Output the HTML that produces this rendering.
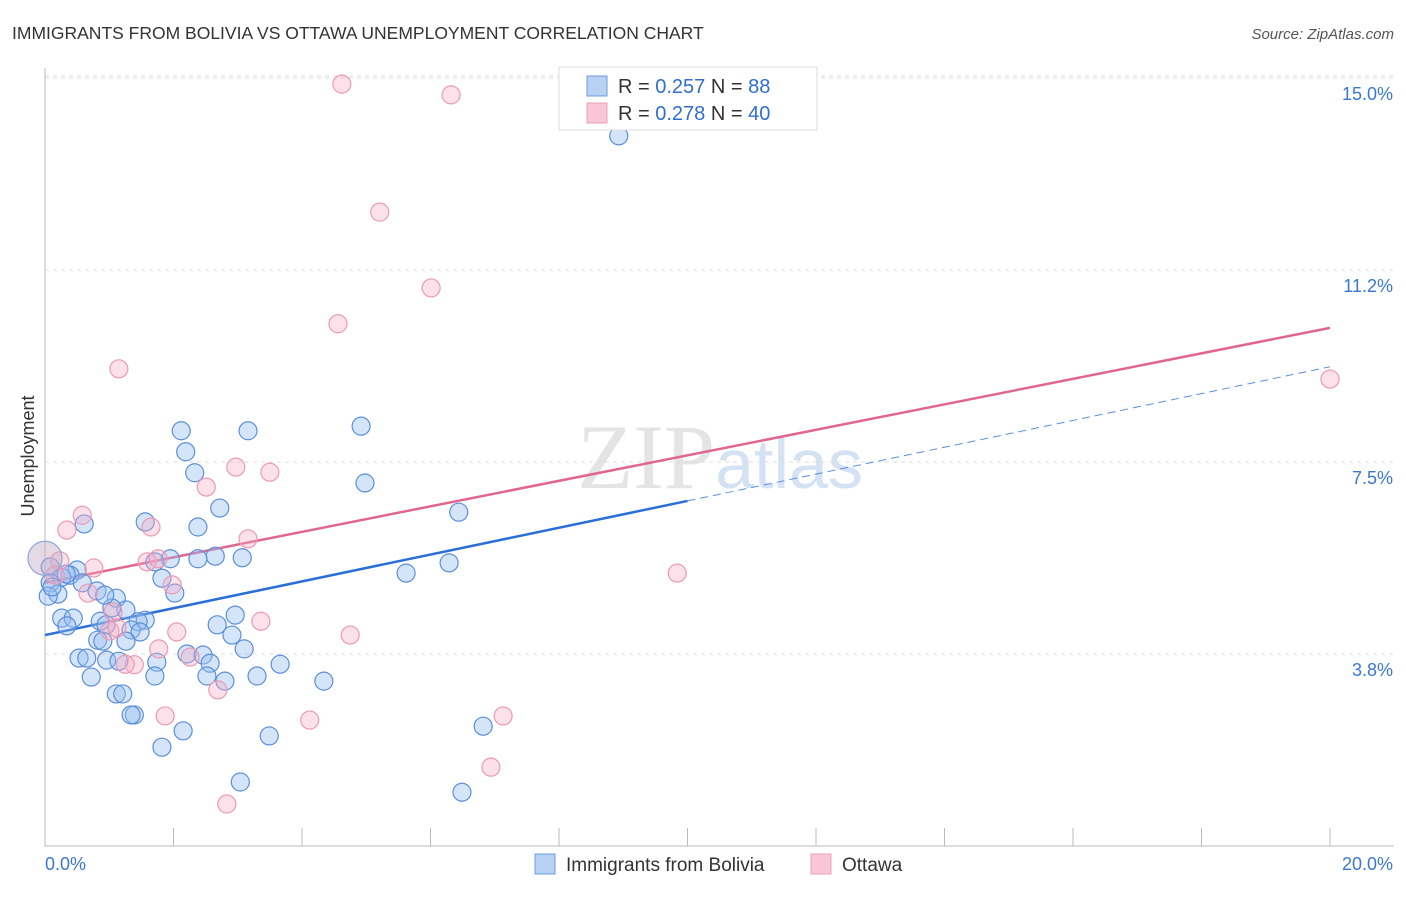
<!DOCTYPE html>
<html><head><meta charset="utf-8"><style>
body{margin:0;background:#fff;font-family:"Liberation Sans",sans-serif;}
</style></head><body>
<svg width="1406" height="892" xmlns="http://www.w3.org/2000/svg" font-family="Liberation Sans, sans-serif">
<text x="12" y="39" font-size="17.5" fill="#333">IMMIGRANTS FROM BOLIVIA VS OTTAWA UNEMPLOYMENT CORRELATION CHART</text>
<text x="1394" y="39" font-size="15" fill="#555" font-style="italic" text-anchor="end">Source: ZipAtlas.com</text>
<text x="720" y="488" font-size="92" fill="#e4e4e4" text-anchor="middle" font-family="Liberation Serif, serif">ZIP<tspan fill="#d4e2f4" font-family="Liberation Sans, sans-serif" font-size="70">atlas</tspan></text>
<g id="grid"></g>
<g id="axes"></g>
<g id="trend"></g>
<g id="pts"></g>
<text transform="translate(34,456) rotate(-90)" font-size="18" fill="#333" text-anchor="middle">Unemployment</text>
<g>
<rect x="559" y="67" width="258" height="63" fill="#fff" stroke="#ddd"/>
<rect x="587" y="76" width="20" height="20" fill="#b8d2f4" stroke="#6d9be0"/>
<rect x="587" y="103" width="20" height="20" fill="#f8c6d4" stroke="#eaa0b8"/>
<text x="618" y="93" font-size="20" fill="#333">R = <tspan fill="#2f6fd0">0.257</tspan>    N = <tspan fill="#2f6fd0"> 88</tspan></text>
<text x="618" y="120" font-size="20" fill="#333">R = <tspan fill="#2f6fd0">0.278</tspan>    N = <tspan fill="#2f6fd0"> 40</tspan></text>
</g>
<g>
<rect x="535" y="854" width="20" height="20" fill="#b8d2f4" stroke="#6d9be0"/>
<text x="566" y="871" font-size="19" fill="#333">Immigrants from Bolivia</text>
<rect x="811" y="854" width="20" height="20" fill="#f8c6d4" stroke="#eaa0b8"/>
<text x="842" y="871" font-size="19" fill="#333">Ottawa</text>
</g>
</svg>
<script>
const yTicks=[3.75,7.5,11.25,15];
const yTickLabels=["3.8%","7.5%","11.2%","15.0%"];
const xTickLabels=["0.0%","20.0%"];
const blueX=[8.93,2.12,3.16,4.92,2.19,2.33,4.98,2.72,1.56,6.44,0.61,2.38,2.65,3.07,1.95,2.38,1.71,6.29,5.62,1.82,0.08,0.50,0.39,0.26,0.08,0.58,0.81,0.20,0.05,1.11,2.02,1.26,1.04,2.96,0.26,0.44,0.86,1.56,1.45,2.68,0.34,0.95,1.34,1.48,2.91,0.82,1.26,0.90,3.10,2.21,2.46,0.53,0.65,0.96,1.15,1.74,2.57,3.66,1.71,2.52,0.72,3.30,2.80,4.34,1.11,1.21,1.39,1.34,2.15,3.49,6.82,1.82,3.04,6.49,0.11,0.33,0.93];
const blueY=[13.87,8.11,8.11,8.20,7.70,7.29,7.09,6.60,6.33,6.52,6.29,6.23,5.66,5.63,5.61,5.61,5.55,5.53,5.33,5.23,5.45,5.39,5.29,5.25,5.14,5.14,4.98,4.92,4.88,4.84,4.94,4.61,4.65,4.51,4.45,4.45,4.39,4.41,4.38,4.32,4.30,4.32,4.22,4.18,4.12,4.02,4.00,4.00,3.85,3.75,3.73,3.67,3.67,3.63,3.61,3.59,3.57,3.55,3.32,3.32,3.30,3.32,3.22,3.22,2.97,2.97,2.56,2.56,2.25,2.15,2.34,1.93,1.25,1.05,5.06,5.31,4.90];
const pinkX=[4.62,6.32,5.21,6.01,4.56,20.0,1.15,2.97,3.50,2.51,0.58,0.34,1.65,3.16,0.23,1.59,0.76,1.76,1.98,0.67,1.06,3.36,1.01,2.05,4.75,1.77,2.26,1.39,1.25,2.69,1.87,4.12,7.13,6.94,2.83,9.84,0.16,1.12];
const pinkY=[14.88,14.67,12.38,10.90,10.20,9.12,9.32,7.40,7.30,7.01,6.46,6.17,6.23,6.00,5.57,5.55,5.43,5.61,5.10,4.94,4.57,4.39,4.20,4.18,4.12,3.85,3.69,3.54,3.55,3.05,2.54,2.46,2.54,1.54,0.82,5.33,5.29,4.26];
const blueTrend=[4.12,9.36];
const pinkTrend=[5.14,10.12];
const NS="http://www.w3.org/2000/svg";
const X=v=>45+v/20*1285, Y=v=>846-v*51.2;
function mk(t,a,p){const e=document.createElementNS(NS,t);for(const k in a)e.setAttribute(k,a[k]);document.getElementById(p).appendChild(e);return e;}
yTicks.forEach((t,i)=>{
 const l=mk('line',{x1:45,x2:1394,y1:Y(t),y2:Y(t),stroke:'#ddd','stroke-dasharray':'4,4'},'grid');
 
 
 const tx=mk('text',{x:1393,y:Y(t)+22,'font-size':18,fill:'#3a78d0','text-anchor':'end'},'axes');
 tx.textContent=yTickLabels[i];
 
 
});
const topG=mk('line',{x1:45,x2:1394,y1:Y(15)-2,y2:Y(15)-2,stroke:'#ddd','stroke-dasharray':'4,4'},'grid');
const ax=mk('line',{x1:45,x2:45,y1:68,y2:846,stroke:'#bbb'},'axes');


const bx=mk('line',{x1:45,x2:1394,y1:846,y2:846,stroke:'#bbb'},'axes');


for(let i=0;i<=10;i++){const t=mk('line',{x1:X(i*2),x2:X(i*2),y1:828,y2:846,stroke:'#bbb'},'axes');
 
 }
const l0=mk('text',{x:45,y:870,'font-size':18,fill:'#3a78d0'},'axes');l0.textContent=xTickLabels[0];


const l1=mk('text',{x:1393,y:870,'font-size':18,fill:'#3a78d0','text-anchor':'end'},'axes');l1.textContent=xTickLabels[1];


const bm=blueTrend[0]+(blueTrend[1]-blueTrend[0])*0.5;
const b1=mk('line',{x1:X(0),y1:Y(blueTrend[0]),x2:X(10),y2:Y(bm),stroke:'#2a6fd6','stroke-width':2.5},'trend');


const b2=mk('line',{x1:X(10),y1:Y(bm),x2:X(20),y2:Y(blueTrend[1]),stroke:'#5a8fe0','stroke-width':1,'stroke-dasharray':'8,5'},'trend');


const p1=mk('line',{x1:X(0),y1:Y(pinkTrend[0]),x2:X(20),y2:Y(pinkTrend[1]),stroke:'#e06690','stroke-width':2.5},'trend');


blueX.forEach((v,i)=>{const c=mk('circle',{cx:X(v),cy:Y(blueY[i]),r:9,fill:'rgba(150,190,240,0.4)',stroke:'#5b8fd9','stroke-width':1.2},'pts');
 
 });
pinkX.forEach((v,i)=>{const c=mk('circle',{cx:X(v),cy:Y(pinkY[i]),r:9,fill:'rgba(245,170,195,0.35)',stroke:'#eb9ab4','stroke-width':1.2},'pts');
 
 });
const big=mk('circle',{cx:X(0),cy:Y(5.62),r:17,fill:'rgba(200,170,200,0.45)',stroke:'#8fa8d8','stroke-width':1.2},'pts');


</script>
</body></html>
